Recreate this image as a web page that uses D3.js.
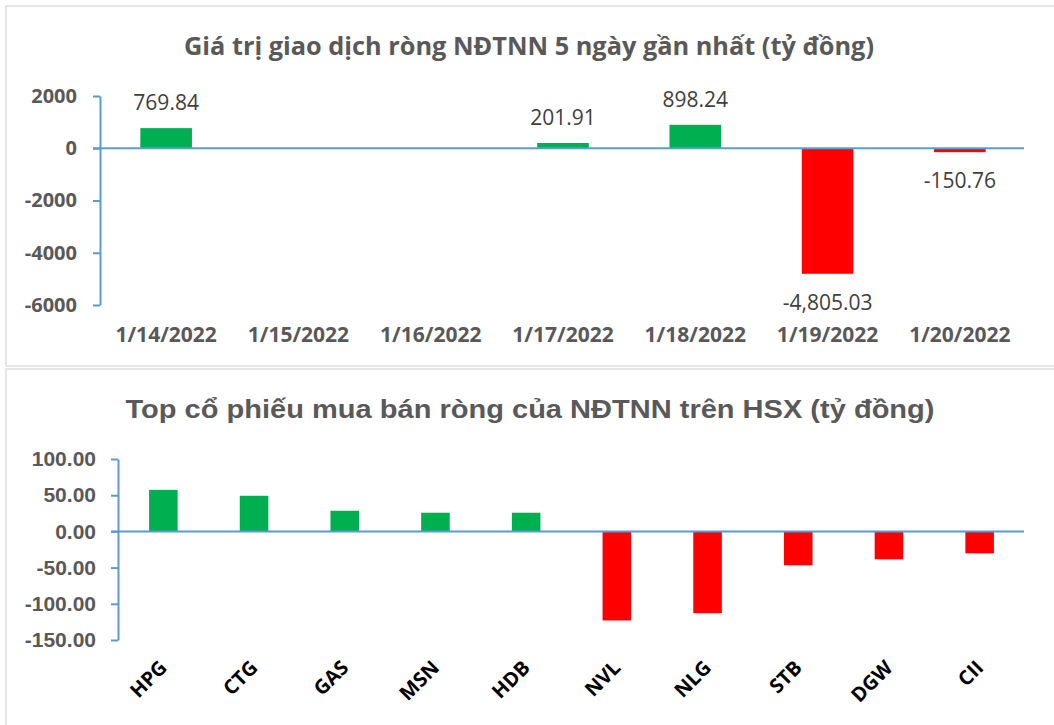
<!DOCTYPE html>
<html>
<head>
<meta charset="utf-8">
<script src="https://cdn.jsdelivr.net/npm/d3@7"></script>
<style>
  body { margin: 0; background: #fff; }
  svg { display: block; }
</style>
</head>
<body>
<div id="chart"></div>
<script>
// data
const dayLabels = ["1/14/2022", "1/15/2022", "1/16/2022", "1/17/2022", "1/18/2022", "1/19/2022", "1/20/2022"];
const dayValues = [769.84, null, null, 201.91, 898.24, -4805.03, -150.76];
const dayTicks = [2000, 0, -2000, -4000, -6000];

const stockLabels = ["HPG", "CTG", "GAS", "MSN", "HDB", "NVL", "NLG", "STB", "DGW", "CII"];
const stockValues = [57.4, 49.2, 28.5, 25.8, 25.8, -123.0, -113.0, -46.8, -38.6, -30.3];
const stockTicks = [100, 50, 0, -50, -100, -150];

const topTitle = "Giá trị giao dịch ròng NĐTNN 5 ngày gần nhất (tỷ đồng)";
const bottomTitle = "Top cổ phiếu mua bán ròng của NĐTNN trên HSX (tỷ đồng)";

// colours
const green = "#00B050";
const red = "#FF0000";
const axisColor = "#5B9BD5";
const textGray = "#595959";

const locale = d3.formatLocale({decimal: ".", thousands: ",", grouping: [3], currency: ["", ""], minus: "-"});
const fmtValue = locale.format(",.2f");
const fmtInt = locale.format("d");
const fmtFixed = locale.format(".2f");

const width = 1054, height = 725;
const svg = d3.select("#chart").append("svg").attr("width", width).attr("height", height);

// panel frames
svg.append("rect").attr("x", 6).attr("y", 6).attr("width", 1100).attr("height", 360)
  .attr("fill", "#fff").attr("stroke", "#d9d9d9").attr("stroke-width", 1.3);
svg.append("rect").attr("x", 6).attr("y", 369).attr("width", 1100).attr("height", 420)
  .attr("fill", "#fff").attr("stroke", "#d9d9d9").attr("stroke-width", 1.3);

//------------------ top chart ------------------
svg.append("text").text(topTitle)
  .attr("x", 529).attr("y", 55)
  .attr("text-anchor", "middle")
  .attr("font-family", "'Open Sans', sans-serif")
  .attr("font-weight", 700).attr("font-size", 25)
  .attr("fill", textGray)
  .attr("textLength", 690).attr("lengthAdjust", "spacingAndGlyphs");

const x1 = d3.scaleBand().domain(dayLabels).range([100, 1026]);
const y1 = d3.scaleLinear().domain([2000, -6000]).range([96, 305]);

const yAxis1 = svg.append("g").attr("transform", "translate(100,0)")
  .call(d3.axisLeft(y1).tickValues(dayTicks).tickFormat(fmtInt).tickSize(7).tickSizeOuter(0).tickPadding(16));
yAxis1.selectAll("path, line").attr("stroke", axisColor).attr("stroke-width", 2);
yAxis1.selectAll("text")
  .attr("font-family", "'Open Sans', sans-serif").attr("font-weight", 700)
  .attr("font-size", 20).attr("fill", textGray);

const dayData = dayLabels.map((d, i) => ({label: d, value: dayValues[i]})).filter(d => d.value !== null);
const bw1 = x1.step() * 0.39;

svg.append("g").selectAll("rect").data(dayData).join("rect")
  .attr("x", d => x1(d.label) + x1.bandwidth() / 2 - bw1 / 2)
  .attr("width", bw1)
  .attr("y", d => y1(Math.max(0, d.value)))
  .attr("height", d => Math.abs(y1(d.value) - y1(0)))
  .attr("fill", d => d.value >= 0 ? green : red);

svg.append("line")
  .attr("x1", 93).attr("x2", 1024)
  .attr("y1", y1(0)).attr("y2", y1(0))
  .attr("stroke", axisColor).attr("stroke-width", 2);

svg.append("g").selectAll("text").data(dayData).join("text")
  .text(d => fmtValue(d.value))
  .attr("x", d => x1(d.label) + x1.bandwidth() / 2)
  .attr("y", d => d.value >= 0 ? y1(d.value) - 18 : y1(d.value) + 36)
  .attr("text-anchor", "middle")
  .attr("font-family", "'Open Sans', sans-serif")
  .attr("font-size", 21).attr("fill", "#404040");

const xAxis1 = svg.append("g").attr("transform", "translate(0,342)")
  .call(d3.axisBottom(x1).tickSize(0).tickPadding(0));
xAxis1.select(".domain").remove();
xAxis1.selectAll("text")
  .attr("y", 0).attr("dy", 0)
  .attr("font-family", "'Open Sans', sans-serif").attr("font-weight", 700)
  .attr("font-size", 21).attr("fill", textGray);

//------------------ bottom chart ------------------
svg.append("text").text(bottomTitle)
  .attr("x", 530).attr("y", 418)
  .attr("text-anchor", "middle")
  .attr("font-family", "'Liberation Sans', Arial, sans-serif")
  .attr("font-weight", 700).attr("font-size", 26)
  .attr("fill", textGray)
  .attr("textLength", 809).attr("lengthAdjust", "spacingAndGlyphs");

const x2 = d3.scaleBand().domain(stockLabels).range([118, 1025]);
const y2 = d3.scaleLinear().domain([100, -150]).range([459, 640]);

const yAxis2 = svg.append("g").attr("transform", "translate(118,0)")
  .call(d3.axisLeft(y2).tickValues(stockTicks).tickFormat(fmtFixed).tickSize(7).tickSizeOuter(0).tickPadding(15));
yAxis2.selectAll("path, line").attr("stroke", axisColor).attr("stroke-width", 2);
yAxis2.selectAll("text")
  .attr("font-family", "'Liberation Sans', Arial, sans-serif").attr("font-weight", 700)
  .attr("font-size", 21).attr("fill", textGray);

const stockData = stockLabels.map((d, i) => ({label: d, value: stockValues[i]}));
const bw2 = x2.step() * 0.315;

svg.append("g").selectAll("rect").data(stockData).join("rect")
  .attr("x", d => x2(d.label) + x2.bandwidth() / 2 - bw2 / 2)
  .attr("width", bw2)
  .attr("y", d => y2(Math.max(0, d.value)))
  .attr("height", d => Math.abs(y2(d.value) - y2(0)))
  .attr("fill", d => d.value >= 0 ? green : red);

svg.append("line")
  .attr("x1", 111).attr("x2", 1024)
  .attr("y1", y2(0)).attr("y2", y2(0))
  .attr("stroke", axisColor).attr("stroke-width", 2);

const xAxis2 = svg.append("g").attr("transform", "translate(0,669)")
  .call(d3.axisBottom(x2).tickSize(0).tickPadding(0));
xAxis2.select(".domain").remove();
xAxis2.selectAll("text")
  .attr("x", 0).attr("y", 0).attr("dy", 0)
  .attr("text-anchor", "end")
  .attr("transform", "translate(5,0) rotate(-45)")
  .attr("font-family", "'Open Sans', sans-serif").attr("font-weight", 700)
  .attr("font-size", 20).attr("fill", "#000");
</script>
</body>
</html>
